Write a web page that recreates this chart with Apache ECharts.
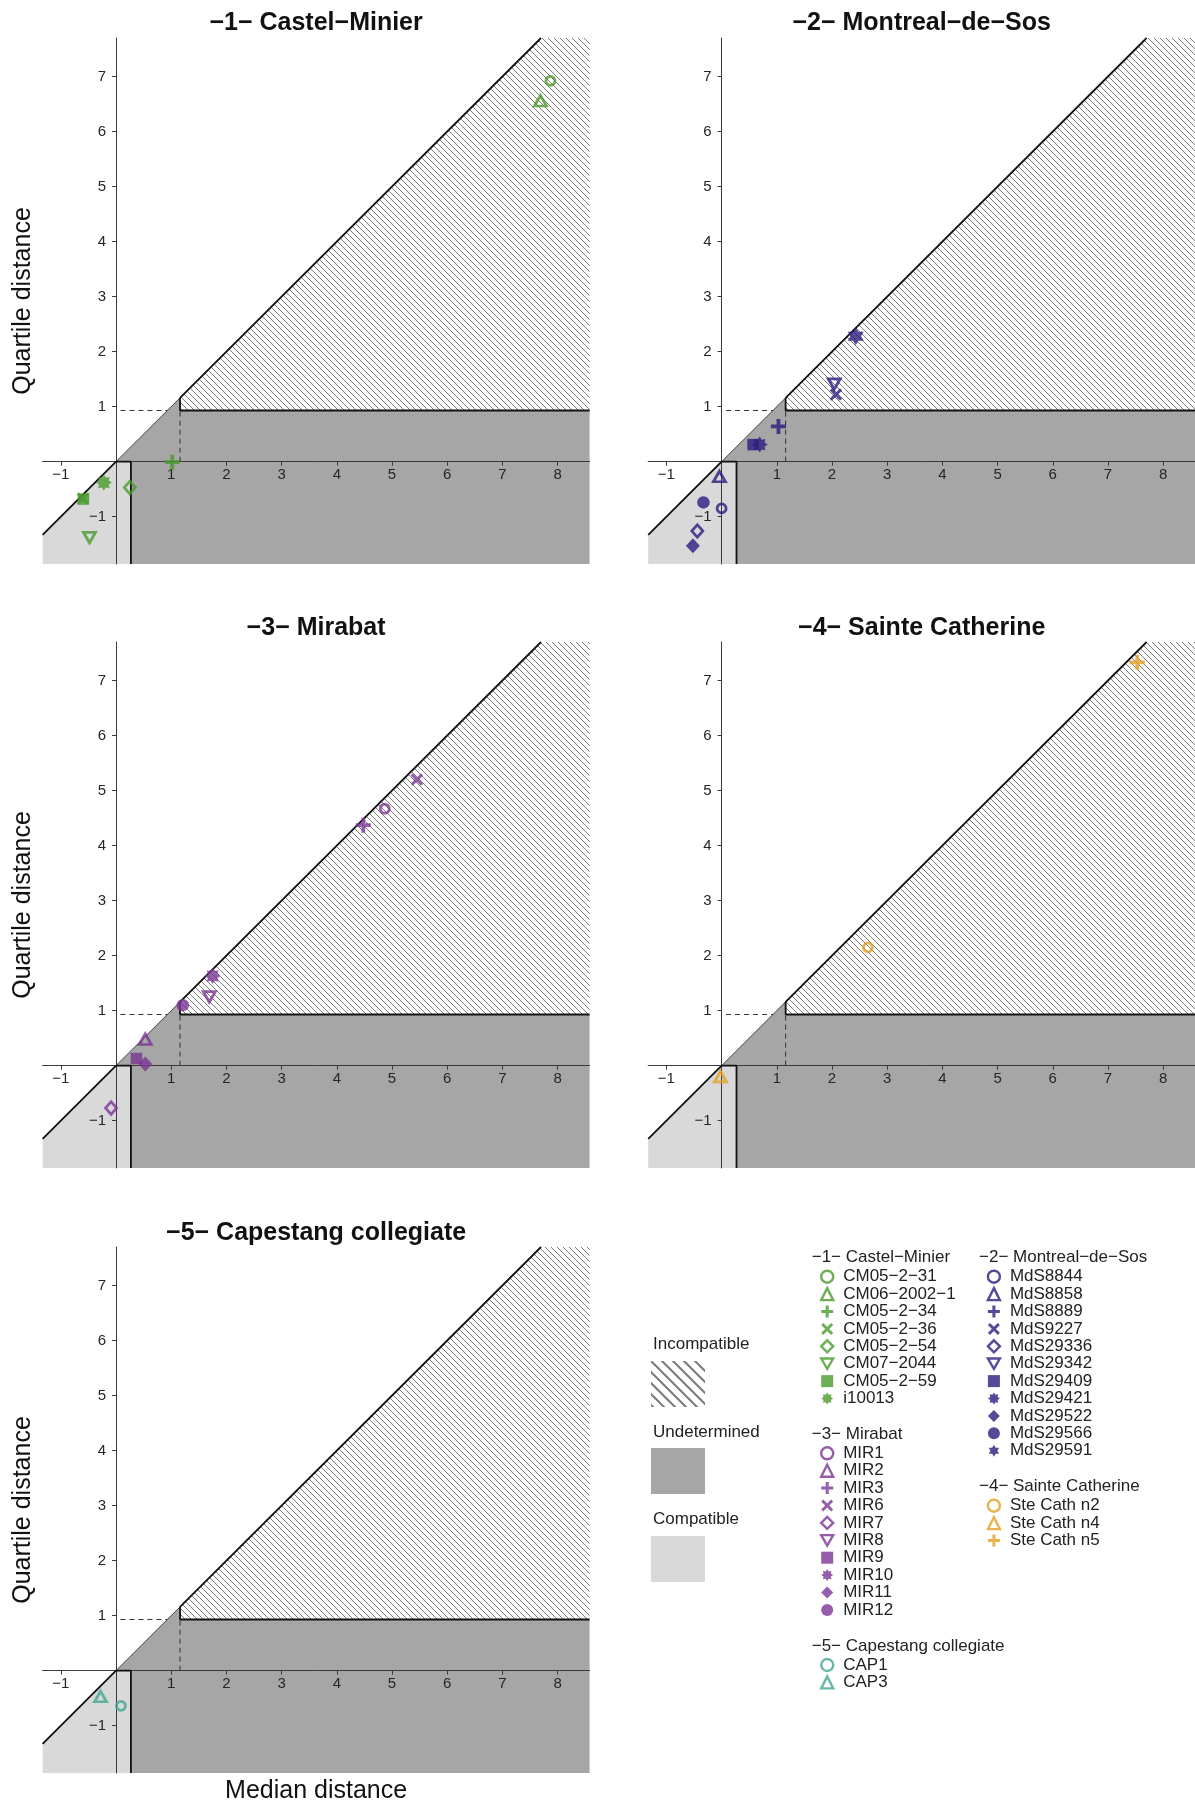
<!DOCTYPE html>
<html><head><meta charset="utf-8">
<script src="https://cdn.jsdelivr.net/npm/echarts@6/dist/echarts.min.js"></script>
<style>html,body{margin:0;padding:0;background:#fff}#c{width:1195px;height:1805px}</style>
</head><body><div id="c"></div>
<script>
// ---------------- data ----------------
const GROUP_TITLES = ['−1− Castel−Minier', '−2− Montreal−de−Sos', '−3− Mirabat', '−4− Sainte Catherine', '−5− Capestang collegiate'];

const CM_NAMES    = ['CM05−2−31', 'CM06−2002−1', 'CM05−2−34', 'CM05−2−36', 'CM05−2−54', 'CM07−2044', 'CM05−2−59', 'i10013'];
const CM_MEDIAN   = [7.87, 7.69, 1.02, -0.60, 0.25, -0.48, -0.59, -0.22];
const CM_QUARTILE = [6.92, 6.56, -0.01, -0.67, -0.47, -1.38, -0.68, -0.38];

const MDS_NAMES    = ['MdS8844', 'MdS8858', 'MdS8889', 'MdS9227', 'MdS29336', 'MdS29342', 'MdS29409', 'MdS29421', 'MdS29522', 'MdS29566', 'MdS29591'];
const MDS_MEDIAN   = [0.00, -0.04, 1.03, 2.07, -0.44, 2.04, 0.57, 0.69, -0.52, -0.33, 2.43];
const MDS_QUARTILE = [-0.85, -0.27, 0.64, 1.22, -1.26, 1.41, 0.31, 0.31, -1.53, -0.74, 2.28];

const MIR_NAMES    = ['MIR1', 'MIR2', 'MIR3', 'MIR6', 'MIR7', 'MIR8', 'MIR9', 'MIR10', 'MIR11', 'MIR12'];
const MIR_MEDIAN   = [4.87, 0.53, 4.48, 5.45, -0.09, 1.69, 0.37, 1.75, 0.53, 1.21];
const MIR_QUARTILE = [4.67, 0.48, 4.37, 5.20, -0.77, 1.25, 0.13, 1.63, 0.03, 1.10];

const SC_NAMES    = ['Ste Cath n2', 'Ste Cath n4', 'Ste Cath n5'];
const SC_MEDIAN   = [2.65, -0.02, 7.53];
const SC_QUARTILE = [2.15, -0.20, 7.33];

const CAP_NAMES    = ['CAP1', 'CAP3'];
const CAP_MEDIAN   = [0.09, -0.28];
const CAP_QUARTILE = [-0.64, -0.47];

// classification thresholds and axis extents
const MED_THR = 1.16, QRT_THR = 0.93, CMP_THR = 0.27;
const X_MIN = -1.33, X_MAX = 8.58, Y_MIN = -1.86, Y_MAX = 7.7;
const X_TICKS = [-1, 0, 1, 2, 3, 4, 5, 6, 7, 8];
const X_LABELS = [-1, 1, 2, 3, 4, 5, 6, 7, 8];
const Y_TICKS = [-1, 0, 1, 2, 3, 4, 5, 6, 7];
const Y_LABELS = [-1, 1, 2, 3, 4, 5, 6, 7];
const ZONE_NAMES = ['Incompatible', 'Undetermined', 'Compatible'];

// ---------------- styles / layout ----------------
const FONT = '"Liberation Sans", Arial, Helvetica, sans-serif';
const GROUP_COLORS = ['#4a9a2c', '#2d1c7e', '#7b3595', '#e2a023', '#45a593'];
const SYMBOL_ORDER = ['ocircle', 'otri', 'plus', 'cross', 'odiam', 'odtri', 'square', 'star8', 'fdiam', 'fcirc', 'hexa'];
const PANEL_LEFT = [42.6, 648.2, 42.6, 648.2, 42.6];
const PANEL_TOP = [38, 38, 642, 642, 1247];
const PANEL_W = 547, PANEL_H = 526;
const TITLE_TOP = [10.5, 10.5, 616, 616, 1221];
// axis lines sit on the zero of the other axis
const X_AXIS_SHIFT = (0 - Y_MIN) / (Y_MAX - Y_MIN) * PANEL_H;
const Y_AXIS_SHIFT = (0 - X_MIN) / (X_MAX - X_MIN) * PANEL_W;

function pathOf(pts) { return 'path://M' + pts.map(p => p[0].toFixed(3) + ',' + p[1].toFixed(3)).join('L') + 'Z'; }
function starPts(n, R, r) {
  const pts = [];
  for (let k = 0; k < 2 * n; k++) {
    const a = -Math.PI / 2 + k * Math.PI / n;
    const rad = k % 2 === 0 ? R : r;
    pts.push([5 + rad * Math.cos(a), 5 + rad * Math.sin(a)]);
  }
  return pts;
}
const PLUS_PATH = 'path://M3.75,0H6.25V3.75H10V6.25H6.25V10H3.75V6.25H0V3.75H3.75Z';
const CROSS_PATH = 'path://M0,1.7L1.7,0L5,3.3L8.3,0L10,1.7L6.7,5L10,8.3L8.3,10L5,6.7L1.7,10L0,8.3L3.3,5Z';
const DTRI_PATH = 'path://M0,0L10,0L5,8.7Z';
const STAR_PATH = pathOf(starPts(8, 5, 3.3));
const HEXA_PATH = pathOf(starPts(6, 5, 5 / Math.sqrt(3)));

const SYMBOLS = {
  ocircle: { symbol: 'circle', size: 9, open: true },
  otri: { symbol: 'triangle', size: [12, 10.5], open: true },
  plus: { symbol: PLUS_PATH, size: 15 },
  cross: { symbol: CROSS_PATH, size: 12.5 },
  odiam: { symbol: 'diamond', size: [11, 12.5], open: true },
  odtri: { symbol: DTRI_PATH, size: [12, 10.5], open: true },
  square: { symbol: 'rect', size: 11.5 },
  star8: { symbol: STAR_PATH, size: 16 },
  fdiam: { symbol: 'diamond', size: [14, 15] },
  fcirc: { symbol: 'circle', size: 12.5 },
  hexa: { symbol: HEXA_PATH, size: [16, 18] }
};

function hatch(step, lw, color) {
  const c = document.createElement('canvas');
  c.width = step; c.height = step;
  const ctx = c.getContext('2d');
  ctx.strokeStyle = color; ctx.lineWidth = lw;
  ctx.beginPath();
  ctx.moveTo(0, 0); ctx.lineTo(step, step);
  ctx.moveTo(-2, step - 2); ctx.lineTo(2, step + 2);
  ctx.moveTo(step - 2, -2); ctx.lineTo(step + 2, 2);
  ctx.stroke();
  return { image: c, repeat: 'repeat' };
}
const HATCH_PLOT = hatch(6, 0.9, '#6e6e6e');
const HATCH_KEY = hatch(11, 2, '#7a7a7a');
const FILL_UND = '#a6a6a6', FILL_CMP = '#d9d9d9';

const GROUPS = [
  { names: CM_NAMES, med: CM_MEDIAN, q: CM_QUARTILE },
  { names: MDS_NAMES, med: MDS_MEDIAN, q: MDS_QUARTILE },
  { names: MIR_NAMES, med: MIR_MEDIAN, q: MIR_QUARTILE },
  { names: SC_NAMES, med: SC_MEDIAN, q: SC_QUARTILE },
  { names: CAP_NAMES, med: CAP_MEDIAN, q: CAP_QUARTILE }
];

// region polygons in data space
const POLY_INC = [[MED_THR, MED_THR], [Y_MAX, Y_MAX], [X_MAX, Y_MAX], [X_MAX, QRT_THR], [MED_THR, QRT_THR]];
const POLY_UND = [[0, 0], [MED_THR, MED_THR], [MED_THR, QRT_THR], [X_MAX, QRT_THR], [X_MAX, Y_MIN], [CMP_THR, Y_MIN], [CMP_THR, 0]];
const POLY_CMP = [[X_MIN, X_MIN], [0, 0], [CMP_THR, 0], [CMP_THR, Y_MIN], [X_MIN, Y_MIN]];

const minusFmt = v => (v < 0 ? '−' + Math.abs(v) : String(v));

const grids = [], xAxes = [], yAxes = [], series = [], titles = [], legends = [];

for (let g = 0; g < 5; g++) {
  grids.push({ left: PANEL_LEFT[g], top: PANEL_TOP[g], width: PANEL_W, height: PANEL_H, containLabel: false, outerBoundsMode: 'none' });
  const lineCol = '#3a3a3a';
  const labelStyle = { fontSize: 15, color: '#262626', fontFamily: FONT, formatter: minusFmt };
  const nameStyle = { fontSize: 25, color: '#111', fontFamily: FONT };
  xAxes.push({
    type: 'value', gridIndex: g, position: 'bottom', offset: -X_AXIS_SHIFT,
    min: X_MIN, max: X_MAX,
    axisLine: { onZero: false, lineStyle: { color: lineCol, width: 1 } },
    axisTick: { show: true, length: 4, customValues: X_TICKS, lineStyle: { color: lineCol, width: 1 } },
    axisLabel: Object.assign({ customValues: X_LABELS, margin: 6 }, labelStyle),
    splitLine: { show: false },
    name: g === 4 ? 'Median distance' : '',
    nameLocation: 'middle', nameGap: 108, nameMoveOverlap: false,
    nameTextStyle: nameStyle
  });
  yAxes.push({
    type: 'value', gridIndex: g, position: 'left', offset: -Y_AXIS_SHIFT,
    min: Y_MIN, max: Y_MAX,
    axisLine: { onZero: false, lineStyle: { color: lineCol, width: 1 } },
    axisTick: { show: true, length: 4, customValues: Y_TICKS, lineStyle: { color: lineCol, width: 1 } },
    axisLabel: Object.assign({ customValues: Y_LABELS, margin: 10 }, labelStyle),
    splitLine: { show: false },
    name: (g % 2 === 0) ? 'Quartile distance' : '',
    nameLocation: 'middle', nameGap: 80, nameRotate: 90, nameMoveOverlap: false,
    nameTextStyle: nameStyle
  });

  // zones
  [[POLY_INC, HATCH_PLOT], [POLY_UND, FILL_UND], [POLY_CMP, FILL_CMP]].forEach(([poly, fill]) => {
    series.push({
      type: 'custom', xAxisIndex: g, yAxisIndex: g, silent: true, z: -1,
      data: [[0, 0]],
      renderItem: (p, api) => ({
        type: 'polygon',
        shape: { points: poly.map(pt => api.coord(pt)) },
        style: { fill: fill, stroke: null }
      })
    });
  });

  // boundary lines
  const lineDefs = [
    { d: [[X_MIN, X_MIN], [0, 0]], w: 1.8, c: '#111' },
    { d: [[0, 0], [MED_THR, MED_THR]], w: 0.9, c: '#333' },
    { d: [[MED_THR, MED_THR], [Y_MAX, Y_MAX]], w: 1.8, c: '#111' },
    { d: [[MED_THR, MED_THR], [MED_THR, QRT_THR], [X_MAX, QRT_THR]], w: 1.8, c: '#111' },
    { d: [[0, 0], [CMP_THR, 0], [CMP_THR, Y_MIN]], w: 1.8, c: '#111' },
    { d: [[0.08, QRT_THR], [QRT_THR, QRT_THR]], w: 1, c: '#333', dash: [5, 4] },
    { d: [[MED_THR, 0], [MED_THR, QRT_THR]], w: 1, c: '#333', dash: [5, 4] }
  ];
  lineDefs.forEach(L => {
    series.push({
      type: 'line', xAxisIndex: g, yAxisIndex: g, silent: true, z: 3,
      data: L.d, showSymbol: false, symbol: 'none',
      lineStyle: { color: L.c, width: L.w, type: L.dash || 'solid' }
    });
  });

  // points
  const G = GROUPS[g], col = GROUP_COLORS[g];
  G.names.forEach((nm, i) => {
    const s = SYMBOLS[SYMBOL_ORDER[i]];
    const itemStyle = s.open
      ? { color: 'rgba(255,255,255,0)', borderColor: col, borderWidth: 2.8 }
      : { color: col, borderWidth: 0 };
    series.push({
      type: 'scatter', name: nm, xAxisIndex: g, yAxisIndex: g, silent: true, z: 5,
      data: [[G.med[i], G.q[i]]],
      symbol: s.symbol, symbolSize: s.size, itemStyle: itemStyle
    });
  });

  // panel titles
  titles.push({
    text: GROUP_TITLES[g], left: PANEL_LEFT[g] + PANEL_W / 2, top: TITLE_TOP[g], textAlign: 'center', padding: 0,
    textStyle: { fontSize: 25, fontWeight: 'bold', color: '#111', fontFamily: FONT, lineHeight: 25 }
  });
}

// legends (one per group, with header)
const LEG = [
  { hx: 811.7, hy: 1257.3, lx: 820, ly: 1268 },
  { hx: 979, hy: 1257.3, lx: 986.7, ly: 1268 },
  { hx: 811.7, hy: 1434, lx: 820, ly: 1444.6 },
  { hx: 979, hy: 1486.7, lx: 986.7, ly: 1497 },
  { hx: 811.7, hy: 1646, lx: 820, ly: 1656.3 }
];
LEG.forEach((L, g) => {
  titles.push({
    text: GROUP_TITLES[g], left: L.hx, top: L.hy - 9, padding: 0,
    textStyle: { fontSize: 17, fontWeight: 'normal', color: '#222', fontFamily: FONT, lineHeight: 18 }
  });
  legends.push({
    data: GROUPS[g].names, orient: 'vertical', left: L.lx, top: L.ly, padding: 0,
    itemWidth: 12, itemHeight: 12, itemGap: 0, selectedMode: false,
    itemStyle: { borderWidth: 2.4 },
    textStyle: { fontSize: 17, lineHeight: 17.4, color: '#222', fontFamily: FONT, padding: [0, 0, 0, 5] }
  });
});

// zone key labels
const KEY_Y = [1344.7, 1432.2, 1519.7];
ZONE_NAMES.forEach((nm, k) => {
  titles.push({
    text: nm, left: 653, top: KEY_Y[k] - 9, padding: 0,
    textStyle: { fontSize: 17, fontWeight: 'normal', color: '#222', fontFamily: FONT, lineHeight: 18 }
  });
});
const KEY_FILLS = [HATCH_KEY, FILL_UND, FILL_CMP];
const KEY_BOX_TOP = [1361, 1448, 1536];
const graphics = KEY_FILLS.map((f, k) => ({
  type: 'rect', left: 651, top: KEY_BOX_TOP[k], silent: true,
  shape: { width: 54, height: 46 }, style: { fill: f }
}));

const chart = echarts.init(document.getElementById('c'), null, { renderer: 'canvas' });
chart.setOption({
  animation: false,
  backgroundColor: '#ffffff',
  textStyle: { fontFamily: FONT },
  title: titles,
  legend: legends,
  grid: grids,
  xAxis: xAxes,
  yAxis: yAxes,
  series: series,
  graphic: graphics
});
</script>
</body></html>
